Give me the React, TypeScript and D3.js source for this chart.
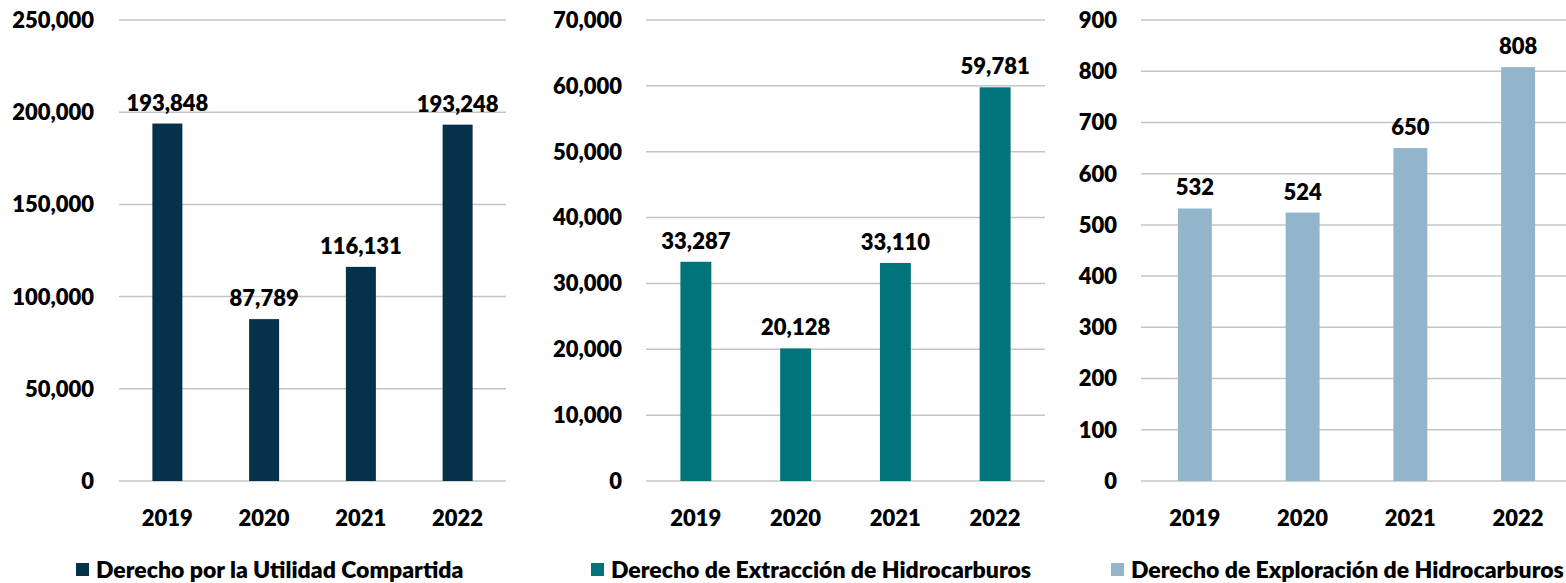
import React from "react";
import * as d3 from "d3";

const years = ["2019", "2020", "2021", "2022"];
const utilidadValues = [193848, 87789, 116131, 193248];
const extraccionValues = [33287, 20128, 33110, 59781];
const exploracionValues = [532, 524, 650, 808];
const utilidadTicks = [0, 50000, 100000, 150000, 200000, 250000];
const extraccionTicks = [0, 10000, 20000, 30000, 40000, 50000, 60000, 70000];
const exploracionTicks = [0, 100, 200, 300, 400, 500, 600, 700, 800, 900];
const legendLabels = [
  "Derecho por la Utilidad Compartida",
  "Derecho de Extracción de Hidrocarburos",
  "Derecho de Exploración de Hidrocarburos",
];

const colors = ["#06314A", "#00747A", "#93B5CB"];
const FONT = "Lato, 'Open Sans', sans-serif";
const fmt = d3.format(",");

const TOP = 20;
const BOTTOM = 481;

type PanelProps = {
  values: number[];
  ticks: number[];
  color: string;
  x0: number;
  x1: number;
  labelRight: number;
  legendX: number;
  legend: string;
  pad: number;
};

function Panel({ values, ticks, color, x0, x1, labelRight, legendX, legend, pad }: PanelProps) {
  const x = d3.scaleBand<string>().domain(years).range([x0, x1]).paddingInner(pad).paddingOuter(pad / 2);
  const y = d3.scaleLinear().domain([0, ticks[ticks.length - 1]]).range([BOTTOM, TOP]);
  const textProps = { fontSize: 22, fontWeight: 800, fontFamily: FONT, fill: "#000" };
  return (
    <g>
      {ticks.map((t) => (
        <g key={t}>
          <line x1={x0} x2={Math.min(x1, 1566)} y1={y(t)} y2={y(t)} stroke="#C4C4C4" strokeWidth={1.5} />
          <text x={labelRight} y={y(t)} dy="0.36em" textAnchor="end" {...textProps}>
            {fmt(t)}
          </text>
        </g>
      ))}
      {values.map((v, i) => (
        <g key={years[i]}>
          <rect x={x(years[i])} y={y(v)} width={x.bandwidth()} height={BOTTOM - y(v)} fill={color} />
          <text x={(x(years[i]) as number) + x.bandwidth() / 2} y={y(v) - 13} textAnchor="middle" {...textProps}>
            {fmt(v)}
          </text>
          <text x={(x(years[i]) as number) + x.bandwidth() / 2} y={526} textAnchor="middle" {...textProps}>
            {years[i]}
          </text>
        </g>
      ))}
      <rect x={legendX} y={563} width={13} height={13} fill={color} />
      <text x={legendX + 20} y={578} {...textProps} fontSize={23}>
        {legend}
      </text>
    </g>
  );
}

export default function App() {
  return (
    <svg width={1566} height={583} style={{ position: "absolute", left: 0, top: 0, background: "#fff" }}>
      <Panel values={utilidadValues} ticks={utilidadTicks} color={colors[0]} x0={119} x1={506} labelRight={94} legendX={76} legend={legendLabels[0]} pad={0.69} />
      <Panel values={extraccionValues} ticks={extraccionTicks} color={colors[1]} x0={646} x1={1045} labelRight={622} legendX={591} legend={legendLabels[1]} pad={0.69} />
      <Panel values={exploracionValues} ticks={exploracionTicks} color={colors[2]} x0={1141} x1={1572} labelRight={1117} legendX={1111} legend={legendLabels[2]} pad={0.685} />
    </svg>
  );
}
